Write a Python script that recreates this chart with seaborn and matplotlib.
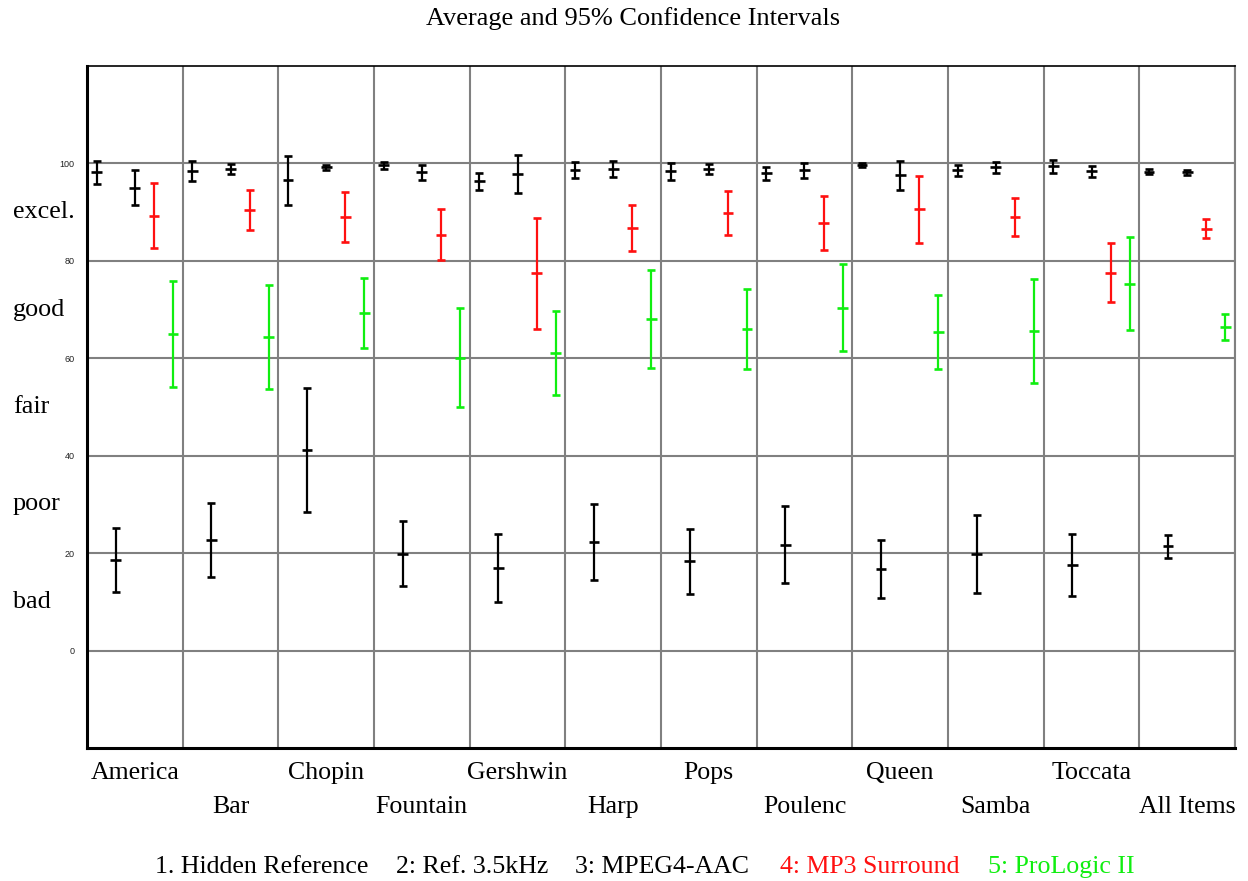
import numpy as np
import pandas as pd
import matplotlib
matplotlib.use("Agg")
import matplotlib.pyplot as plt
import matplotlib.transforms as mtrans
import seaborn as sns

# ---------------- data ----------------
items = ["America", "Bar", "Chopin", "Fountain", "Gershwin", "Harp",
         "Pops", "Poulenc", "Queen", "Samba", "Toccata", "All Items"]
codecs = ["1. Hidden Reference", "2: Ref. 3.5kHz", "3: MPEG4-AAC",
          "4: MP3 Surround", "5: ProLogic II"]

hidden_mean = [98.2, 98.4, 96.5, 99.6, 96.3, 98.6, 98.4, 98.0, 99.7, 98.6, 99.4, 98.3]
hidden_ci   = [2.4, 2.0, 5.0, 0.75, 1.7, 1.6, 1.7, 1.3, 0.45, 1.1, 1.3, 0.5]
ref35_mean  = [18.6, 22.7, 41.1, 19.9, 16.9, 22.3, 18.3, 21.7, 16.7, 19.9, 17.5, 21.4]
ref35_ci    = [6.6, 7.5, 12.7, 6.7, 7.0, 7.8, 6.7, 7.9, 6.0, 8.0, 6.4, 2.4]
aac_mean    = [95.0, 98.8, 99.2, 98.2, 97.8, 98.8, 98.8, 98.6, 97.6, 99.2, 98.4, 98.2]
aac_ci      = [3.6, 1.0, 0.5, 1.5, 3.9, 1.6, 1.0, 1.5, 3.0, 1.1, 1.1, 0.5]
mp3s_mean   = [89.3, 90.5, 89.0, 85.4, 77.5, 86.7, 89.8, 87.8, 90.6, 89.1, 77.6, 86.6]
mp3s_ci     = [6.7, 4.1, 5.1, 5.2, 11.4, 4.7, 4.5, 5.6, 6.9, 3.9, 6.1, 1.9]
plii_mean   = [65.0, 64.3, 69.3, 60.1, 61.1, 68.1, 66.0, 70.4, 65.4, 65.6, 75.3, 66.4]
plii_ci     = [10.8, 10.7, 7.2, 10.2, 8.6, 10.0, 8.2, 8.9, 7.5, 10.7, 9.5, 2.7]

quality_labels = ["excel.", "good", "fair", "poor", "bad"]
quality_values = [90, 70, 50, 30, 10]
ytick_values = [0, 20, 40, 60, 80, 100]

codec_colors = ["#000000", "#000000", "#000000", "#ff1010", "#10ee10"]

means = [hidden_mean, ref35_mean, aac_mean, mp3s_mean, plii_mean]
cis = [hidden_ci, ref35_ci, aac_ci, mp3s_ci, plii_ci]

rows = []
for j, c in enumerate(codecs):
    for i, it in enumerate(items):
        rows.append({"item": it, "codec": c, "x": i + 0.1 + 0.2 * j,
                     "mean": means[j][i], "ci": cis[j][i]})
df = pd.DataFrame(rows)

# ---------------- figure ----------------
sns.set_theme(style="white")
plt.rcParams["font.family"] = ["Liberation Serif", "DejaVu Serif"]

W, H = 1248, 881
fig = plt.figure(figsize=(W / 100, H / 100), dpi=100)
ax = fig.add_axes([87 / W, 1 - 748 / H, (1235 - 87) / W, (748 - 66) / H])

grid_col = "#808080"
ax.set_xlim(0, len(items))
ax.set_ylim(-20, 120)
ax.set_xticks(np.arange(len(items) + 1))
ax.set_xticklabels([])
ax.set_yticks(ytick_values)
ax.set_yticklabels([str(v) for v in ytick_values], family="Liberation Sans",
                   fontsize=6.5, color="#222222")
ax.tick_params(axis="y", length=0, pad=9)
ax.tick_params(axis="x", length=8, width=1.8, color=grid_col, direction="out")
ax.grid(True, color=grid_col, lw=1.5)
ax.set_axisbelow(True)
for s in ["left", "bottom"]:
    ax.spines[s].set_color("black")
    ax.spines[s].set_linewidth(2.2)
ax.spines["top"].set_color("black")
ax.spines["top"].set_linewidth(1.2)
ax.spines["right"].set_color(grid_col)
ax.spines["right"].set_linewidth(1.5)

# error bars
for j, c in enumerate(codecs):
    sub = df[df["codec"] == c]
    ax.errorbar(sub["x"], sub["mean"], yerr=sub["ci"], fmt="none",
                ecolor=codec_colors[j], elinewidth=1.6, capsize=3, capthick=1.9,
                zorder=3)

# mean ticks via seaborn
sns.scatterplot(data=df, x="x", y="mean", hue="codec", hue_order=codecs,
                palette=codec_colors, marker="_", s=60, linewidth=1.9,
                legend=False, ax=ax, zorder=4)
ax.set_xlabel("")
ax.set_ylabel("")

# group labels (alternating heights)
tr = mtrans.blended_transform_factory(ax.transData, fig.transFigure)
for i, it in enumerate(items):
    yy = 1 - (773 if i % 2 == 0 else 807) / H
    ax.text(i + 0.5, yy, it, transform=tr, ha="center", va="center",
            fontsize=18.6, color="black")

# quality labels
trq = mtrans.blended_transform_factory(fig.transFigure, ax.transData)
for lab, v in zip(quality_labels, quality_values):
    fig.text(13 / W, v, lab, transform=trq, ha="left", va="center",
             fontsize=18.8, color="black")

# title
fig.text(0.507, 1 - 19 / H, "Average and 95% Confidence Intervals",
         ha="center", va="center", fontsize=19, color="black")

# legend text
legend_x = [155, 396, 575, 780, 988]
for x0, lab, col in zip(legend_x, codecs, codec_colors):
    fig.text(x0 / W, 1 - 867 / H, lab, ha="left", va="center",
             fontsize=18.6, color=col)

fig.savefig("out.png", dpi=100)
